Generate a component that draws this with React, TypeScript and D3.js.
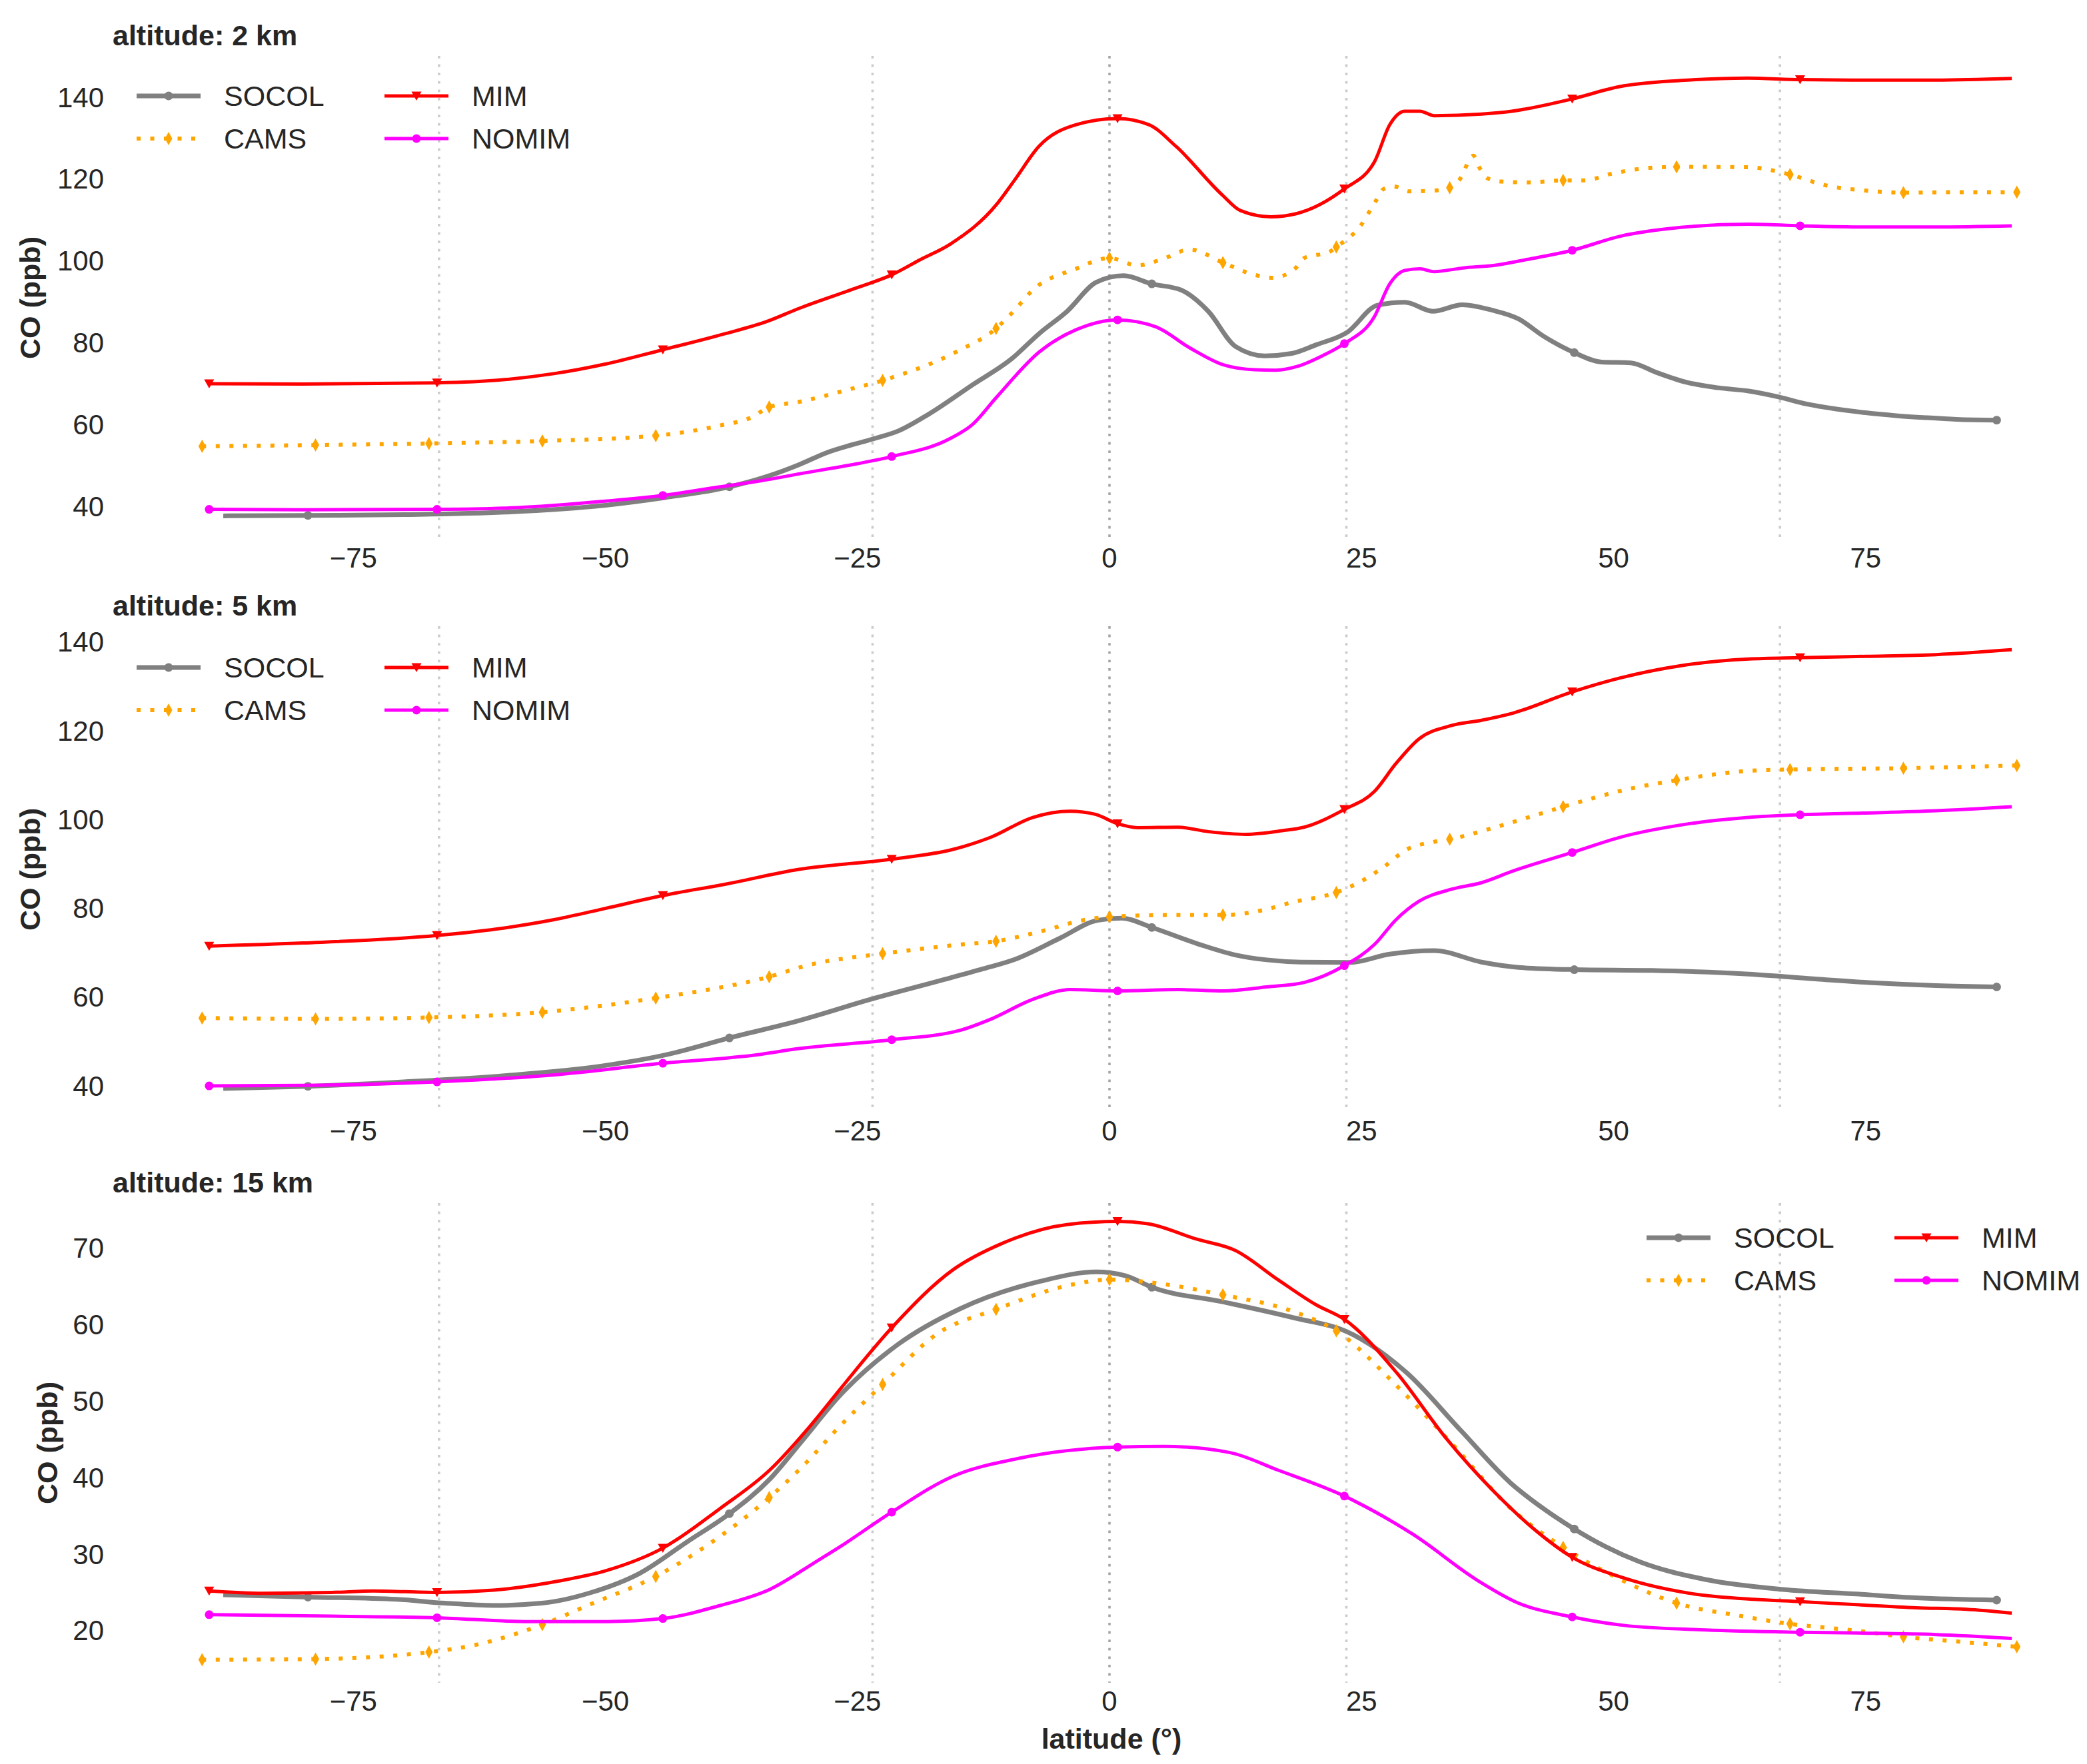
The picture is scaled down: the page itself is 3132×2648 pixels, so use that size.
import React, { useEffect, useRef } from 'react';
import * as d3 from 'd3';

type Pt = [number, number];

// axis ticks and reference latitudes (tropics, polar circles, equator)
const latTicks = [-75, -50, -25, 0, 25, 50, 75];
const refLats = [-66.5, -23.5, 0, 23.5, 66.5];
const yTicks2 = [40, 60, 80, 100, 120, 140];
const yTicks5 = [40, 60, 80, 100, 120, 140];
const yTicks15 = [20, 30, 40, 50, 60, 70];

// latitudes where each model shows a marker
const socolMarks = [-79.5, -37.7, 4.2, 46.1, 88];
const camsMarks = [-90, -78.75, -67.5, -56.25, -45, -33.75, -22.5, -11.25, 0, 11.25, 22.5, 33.75, 45, 56.25, 67.5, 78.75, 90];
const mimMarks = [-89.3, -66.7, -44.3, -21.6, 0.8, 23.3, 45.9, 68.5];

// ---- altitude 2 km ----
const socol2: Pt[] = [[-87.9, 37.7], [-79.5, 37.8], [-70, 38.0], [-60, 38.6], [-50, 40.3], [-44, 42.2], [-37.7, 44.8], [-34, 47.3], [-30.7, 50.3], [-28.2, 53.0], [-23.6, 56.4], [-20.9, 58.5], [-17.9, 62.6], [-13.6, 69.7], [-9.7, 76.1], [-6.9, 82.4], [-4.2, 87.7], [-1.3, 94.8], [1.4, 96.4], [4.2, 94.4], [7.1, 92.9], [9.8, 87.7], [12.5, 79.1], [15.4, 76.8], [18.1, 77.4], [20.5, 79.5], [23.6, 82.6], [26.6, 89.2], [29.3, 89.9], [32.1, 87.7], [35.0, 89.3], [37.9, 88.0], [40.6, 85.8], [43.0, 81.7], [46.1, 77.6], [48.8, 75.3], [51.7, 75.1], [54.3, 72.7], [57.3, 70.3], [60.4, 69.0], [63.4, 68.2], [66.3, 66.8], [69.2, 65.0], [72.1, 63.8], [75, 62.9], [78, 62.2], [81, 61.7], [84, 61.3], [88, 61.1]];
const cams2: Pt[] = [[-90, 54.7], [-78.75, 55.0], [-67.5, 55.4], [-56.25, 56.0], [-45, 57.3], [-38.8, 59.7], [-35.4, 61.9], [-33.75, 64.3], [-30.7, 65.6], [-26, 68.5], [-22.5, 70.8], [-15.1, 77.9], [-11.25, 83.5], [-9.4, 88.0], [-7.6, 92.9], [-3.3, 98.1], [0, 100.7], [2.8, 98.9], [5.2, 100.4], [8.0, 102.8], [11.25, 99.6], [14.4, 96.6], [16.2, 95.9], [18.4, 98.1], [19.3, 100.7], [21.8, 102.2], [22.5, 103.4], [24.9, 108.6], [26.4, 114.6], [27.2, 117.6], [28.2, 118.2], [29.7, 117.0], [32.2, 117.2], [33.75, 117.9], [34.7, 119.8], [36.1, 125.7], [36.7, 122.8], [37.5, 120.2], [38.9, 119.4], [41.6, 119.2], [45, 119.7], [47.1, 119.7], [49.8, 121.3], [53.8, 122.8], [56.25, 123.0], [63.4, 122.9], [67.5, 121.1], [71, 118.5], [75, 117.2], [78.75, 116.7], [84, 116.8], [90, 116.8]];
const mim2: Pt[] = [[-89.3, 70.0], [-80, 69.9], [-66.7, 70.2], [-60, 71.0], [-55, 72.5], [-50, 74.8], [-44.3, 78.3], [-38, 82.3], [-34, 85.2], [-30.8, 88.4], [-25, 93.5], [-21.6, 96.6], [-18.7, 100.4], [-15.8, 104.1], [-11.2, 113.8], [-9.4, 119.8], [-7.0, 128.0], [-3.3, 133.3], [0.8, 134.8], [3.9, 133.3], [6.6, 128.0], [11.2, 116.1], [13.0, 112.3], [16.0, 110.8], [18.6, 111.6], [23.3, 117.6], [26.3, 124.3], [27.8, 133.3], [29.3, 136.6], [30.8, 136.6], [32.2, 135.5], [36.9, 135.9], [39.9, 136.6], [45.9, 139.6], [50.6, 142.6], [56.7, 144.1], [63.3, 144.7], [68.5, 144.3], [75, 144.2], [82, 144.2], [89.5, 144.6]];
const nomim2: Pt[] = [[-89.3, 39.3], [-80, 39.2], [-66.7, 39.3], [-60, 39.6], [-55, 40.3], [-50, 41.3], [-44.3, 42.7], [-38.6, 44.8], [-34.5, 46.3], [-30.7, 48.0], [-26, 50.0], [-21.6, 52.2], [-15.8, 56.6], [-13.6, 60.0], [-11.2, 66.7], [-6.9, 77.9], [-3.3, 83.2], [0.8, 85.6], [4.6, 83.9], [8.0, 78.7], [11.3, 74.6], [14.4, 73.4], [16.5, 73.3], [18.6, 74.2], [21.1, 76.8], [23.3, 79.8], [26.3, 86.5], [27.8, 94.4], [29.3, 97.7], [30.8, 98.1], [32.2, 97.4], [35.1, 98.3], [38.1, 98.9], [41.5, 100.4], [45.9, 102.6], [50.6, 106.0], [56.7, 108.2], [63.4, 109.0], [68.5, 108.6], [75, 108.3], [82, 108.3], [89.5, 108.6]];

// ---- altitude 5 km ----
const socol5: Pt[] = [[-87.9, 39.4], [-79.5, 39.9], [-70, 40.9], [-60, 42.3], [-50, 44.6], [-44, 47.0], [-37.7, 50.8], [-30.8, 54.7], [-23.7, 59.5], [-17.0, 63.6], [-12.5, 66.4], [-9.4, 68.5], [-4.9, 73.3], [-1.2, 77.3], [1.2, 77.8], [4.2, 75.7], [8.9, 71.9], [12.5, 69.5], [15.6, 68.4], [19, 67.9], [23.8, 67.8], [27.8, 69.7], [32.2, 70.5], [36.9, 67.9], [40.6, 66.7], [46.1, 66.2], [53.8, 66.0], [63.4, 65.2], [70, 64.1], [76, 63.2], [82, 62.6], [88, 62.3]];
const cams5: Pt[] = [[-90, 55.3], [-78.75, 55.1], [-67.5, 55.4], [-56.25, 56.6], [-45, 59.8], [-33.75, 64.6], [-29.9, 67.2], [-22.5, 69.8], [-15.0, 71.8], [-11.25, 72.6], [-6.5, 75.0], [-2.5, 77.4], [0, 78.1], [5.8, 78.5], [11.25, 78.5], [15.6, 79.8], [18, 81.3], [22.5, 83.6], [25.2, 86.4], [27.3, 89.5], [29.5, 93.3], [32.2, 95.0], [33.75, 95.6], [38.9, 98.7], [45, 102.9], [51.1, 106.7], [56.25, 108.9], [63.4, 111.0], [67.5, 111.3], [78.75, 111.6], [90, 112.2]];
const mim5: Pt[] = [[-89.3, 71.5], [-80, 72.2], [-66.7, 73.9], [-60, 75.6], [-55, 77.5], [-50, 80.0], [-44.3, 82.9], [-38, 85.5], [-30.8, 88.8], [-21.6, 91.1], [-15.5, 93.3], [-11.8, 96.0], [-7.6, 100.5], [-3.9, 101.9], [-1.4, 101.2], [0.8, 99.1], [2.8, 98.2], [6.8, 98.3], [9.8, 97.3], [13.5, 96.7], [17.1, 97.5], [19.3, 98.3], [23.3, 102.3], [26.3, 106.4], [28.4, 112.6], [30.7, 118.2], [33.9, 121.2], [36.9, 122.4], [40.0, 124.0], [45.9, 128.8], [50.6, 131.9], [56.7, 134.7], [63.4, 136.2], [68.5, 136.5], [75, 136.8], [82, 137.2], [89.5, 138.3]];
const nomim5: Pt[] = [[-89.3, 40.0], [-80, 40.1], [-66.7, 40.9], [-55, 42.5], [-44.3, 45.1], [-35, 47.0], [-30.8, 48.4], [-21.6, 50.4], [-14.7, 52.6], [-11.8, 55.0], [-7.6, 59.5], [-3.9, 61.7], [0.8, 61.4], [6.8, 61.7], [11.3, 61.4], [15.6, 62.3], [19.3, 63.3], [23.3, 67.1], [26.3, 71.9], [28.4, 77.4], [30.7, 81.6], [33.9, 84.3], [36.9, 85.8], [40.0, 88.4], [45.9, 92.6], [50.6, 96.0], [56.7, 98.8], [63.4, 100.5], [68.5, 101.1], [75, 101.5], [82, 102.0], [89.5, 102.9]];

// ---- altitude 15 km ----
const socol15: Pt[] = [[-87.9, 24.7], [-79.5, 24.4], [-70.7, 24.1], [-65.9, 23.6], [-61.1, 23.3], [-56.3, 23.6], [-51.4, 25.0], [-46.6, 27.5], [-41.8, 31.7], [-37.7, 35.3], [-33.7, 39.8], [-30.5, 44.8], [-26.7, 50.8], [-20.9, 57.5], [-14.8, 62.1], [-6.8, 65.7], [-1.3, 66.9], [1.6, 66.4], [4.2, 64.9], [11.2, 63.0], [18.3, 60.9], [23.7, 59.0], [29.5, 53.7], [34.9, 46.1], [39.8, 39.3], [43.0, 36.0], [46.1, 33.3], [49.2, 31.0], [52.6, 29.0], [59.1, 26.7], [66.8, 25.4], [74.1, 24.8], [80, 24.3], [88, 24.0]];
const cams15: Pt[] = [[-90, 16.2], [-78.75, 16.3], [-67.5, 17.2], [-62.7, 18.2], [-56.25, 20.8], [-51.4, 23.5], [-45, 27.1], [-40.2, 30.9], [-33.75, 37.4], [-30.5, 41.4], [-26.7, 46.8], [-22.5, 52.2], [-17.1, 58.8], [-11.25, 62.0], [-4.2, 65.1], [0, 65.9], [5.4, 65.3], [11.25, 63.9], [18.3, 61.7], [22.5, 59.2], [28.5, 52.0], [34.0, 44.4], [39.8, 36.0], [45, 30.9], [51.0, 26.5], [56.25, 23.6], [62.3, 22.0], [67.5, 20.9], [74.1, 20.0], [78.75, 19.2], [84, 18.6], [90, 17.9]];
const mim15: Pt[] = [[-89.3, 25.2], [-84, 24.9], [-77.2, 25.0], [-73, 25.2], [-66.7, 25.0], [-61.1, 25.3], [-54.6, 26.5], [-49.8, 27.9], [-44.3, 30.8], [-38.6, 36.0], [-33.7, 41.0], [-29.6, 46.9], [-26.7, 51.6], [-21.6, 59.6], [-15.5, 67.2], [-10.7, 70.6], [-4.2, 73.1], [0.8, 73.5], [3.8, 73.2], [8.6, 71.2], [12.5, 69.7], [16.7, 65.9], [20.5, 62.6], [23.3, 60.7], [28.5, 53.7], [33.3, 45.3], [38.2, 38.1], [42.0, 33.4], [45.9, 29.6], [51.0, 26.9], [57.5, 24.9], [63.9, 24.1], [68.5, 23.8], [74.1, 23.4], [80, 23.0], [85, 22.8], [89.5, 22.3]];
const nomim15: Pt[] = [[-89.3, 22.1], [-77.2, 21.9], [-66.7, 21.7], [-57.9, 21.2], [-49.8, 21.2], [-44.3, 21.6], [-38.6, 23.3], [-33.7, 25.4], [-28.9, 29.2], [-26.7, 31.0], [-21.6, 35.5], [-15.5, 40.2], [-9.1, 42.5], [0.8, 44.0], [5.4, 44.1], [11.9, 43.3], [16.7, 41.0], [23.3, 37.6], [30.1, 32.6], [36.6, 26.5], [40.4, 23.7], [45.9, 21.8], [51.0, 20.7], [59.1, 20.1], [68.5, 19.8], [74.1, 19.7], [82, 19.5], [89.5, 19.0]];

type Marker = 'circle' | 'tri' | 'thin' | 'dot';
type Series = { name: string; color: string; width: number; dash?: string; marker: Marker; marks: number[] };

const seriesStyle: Series[] = [
  { name: 'SOCOL', color: '#808080', width: 7, marker: 'circle', marks: socolMarks },
  { name: 'CAMS', color: '#ffa500', width: 6, dash: '6 14.5', marker: 'thin', marks: camsMarks },
  { name: 'MIM', color: '#ff0000', width: 5, marker: 'tri', marks: mimMarks },
  { name: 'NOMIM', color: '#ff00ff', width: 5, marker: 'dot', marks: mimMarks },
];

const symbolPath = (m: Marker) => {
  if (m === 'tri') return 'M-7.5,-6.5L7.5,-6.5L0,7Z';
  if (m === 'thin') return 'M0,-10L5.5,0L0,10L-5.5,0Z';
  const r = m === 'circle' ? 6.5 : 6.5;
  return d3.symbol(d3.symbolCircle, Math.PI * r * r)() as string;
};

const FONT = '"Liberation Sans", Arial, sans-serif';
const TEXT = '#262626';

const App: React.FC = () => {
  const svgRef = useRef<SVGSVGElement | null>(null);

  useEffect(() => {
    if (!svgRef.current) return;
    const W = 3132;
    const H = 2648;
    const svg = d3.select(svgRef.current).attr('width', W).attr('height', H);
    svg.selectAll('*').remove();
    svg.append('rect').attr('width', W).attr('height', H).attr('fill', '#fff');

    const x = d3.scaleLinear().domain([-90, 90]).range([303.3, 3026.7]);
    const fmt = d3.format('d');

    const panels = [
      { title: 'altitude: 2 km', top: 84, bottom: 810, dom: [31.9, 150.1], ticks: yTicks2, data: [socol2, cams2, mim2, nomim2], leg: [205, 144], ylx: 45 },
      { title: 'altitude: 5 km', top: 940, bottom: 1670, dom: [34, 143.6], ticks: yTicks5, data: [socol5, cams5, mim5, nomim5], leg: [205, 1002], ylx: 45 },
      { title: 'altitude: 15 km', top: 1806, bottom: 2526, dom: [13.2, 75.9], ticks: yTicks15, data: [socol15, cams15, mim15, nomim15], leg: [2471, 1858], ylx: 71 },
    ];

    panels.forEach((p) => {
      const y = d3.scaleLinear().domain(p.dom).range([p.bottom, p.top]);
      const g = svg.append('g');

      // reference latitudes
      refLats.forEach((lat) => {
        g.append('line')
          .attr('x1', x(lat)).attr('x2', x(lat))
          .attr('y1', p.top).attr('y2', p.bottom)
          .attr('stroke', lat === 0 ? '#a6a6a6' : '#cccccc')
          .attr('stroke-width', 3.6)
          .attr('stroke-dasharray', '3.8 8.8');
      });

      // tick labels
      p.ticks.forEach((t) => {
        g.append('text')
          .attr('x', 156).attr('y', y(t))
          .attr('text-anchor', 'end').attr('dominant-baseline', 'central')
          .attr('font-family', FONT).attr('font-size', 42).attr('fill', TEXT)
          .text(fmt(t));
      });
      latTicks.forEach((t) => {
        g.append('text')
          .attr('x', x(t)).attr('y', p.bottom + 27)
          .attr('text-anchor', 'middle').attr('dominant-baseline', 'central')
          .attr('font-family', FONT).attr('font-size', 42).attr('fill', TEXT)
          .text(fmt(t));
      });

      // title and y label
      g.append('text')
        .attr('x', 169).attr('y', p.top - 16)
        .attr('font-family', FONT).attr('font-size', 43).attr('font-weight', 'bold').attr('fill', TEXT)
        .text(p.title);
      const cy = (p.top + p.bottom) / 2;
      g.append('text')
        .attr('transform', `translate(${p.ylx},${cy}) rotate(-90)`)
        .attr('text-anchor', 'middle').attr('dominant-baseline', 'central')
        .attr('font-family', FONT).attr('font-size', 43).attr('font-weight', 'bold').attr('fill', TEXT)
        .text('CO (ppb)');

      // series
      const line = d3.line<Pt>().x(d => x(d[0])).y(d => y(d[1])).curve(d3.curveMonotoneX);
      seriesStyle.forEach((s, i) => {
        const pts = p.data[i];
        g.append('path')
          .attr('d', line(pts) as string)
          .attr('fill', 'none')
          .attr('stroke', s.color)
          .attr('stroke-width', s.width)
          .attr('stroke-dasharray', s.dash ?? null)
          .attr('stroke-linejoin', 'round');
        const sym = symbolPath(s.marker);
        pts.filter(d => s.marks.includes(d[0])).forEach((d) => {
          g.append('path')
            .attr('d', sym)
            .attr('transform', `translate(${x(d[0])},${y(d[1])})`)
            .attr('fill', s.color);
        });
      });

      // legend (two columns)
      const [lx, ly] = p.leg;
      seriesStyle.forEach((s, i) => {
        const col = Math.floor(i / 2);
        const row = i % 2;
        const x0 = lx + col * 372;
        const yy = ly + row * 64;
        g.append('line')
          .attr('x1', x0).attr('x2', x0 + 96).attr('y1', yy).attr('y2', yy)
          .attr('stroke', s.color).attr('stroke-width', s.width)
          .attr('stroke-dasharray', s.dash ?? null);
        g.append('path')
          .attr('d', symbolPath(s.marker))
          .attr('transform', `translate(${x0 + 48},${yy})`)
          .attr('fill', s.color);
        g.append('text')
          .attr('x', x0 + 131).attr('y', yy)
          .attr('dominant-baseline', 'central')
          .attr('font-family', FONT).attr('font-size', 43).attr('fill', TEXT)
          .text(s.name);
      });
    });

    svg.append('text')
      .attr('x', 1668).attr('y', 2610)
      .attr('text-anchor', 'middle').attr('dominant-baseline', 'central')
      .attr('font-family', FONT).attr('font-size', 43).attr('font-weight', 'bold').attr('fill', TEXT)
      .text('latitude (°)');
  }, []);

  return <svg ref={svgRef} style={{ position: 'absolute', left: 0, top: 0, display: 'block' }} />;
};

export default App;
